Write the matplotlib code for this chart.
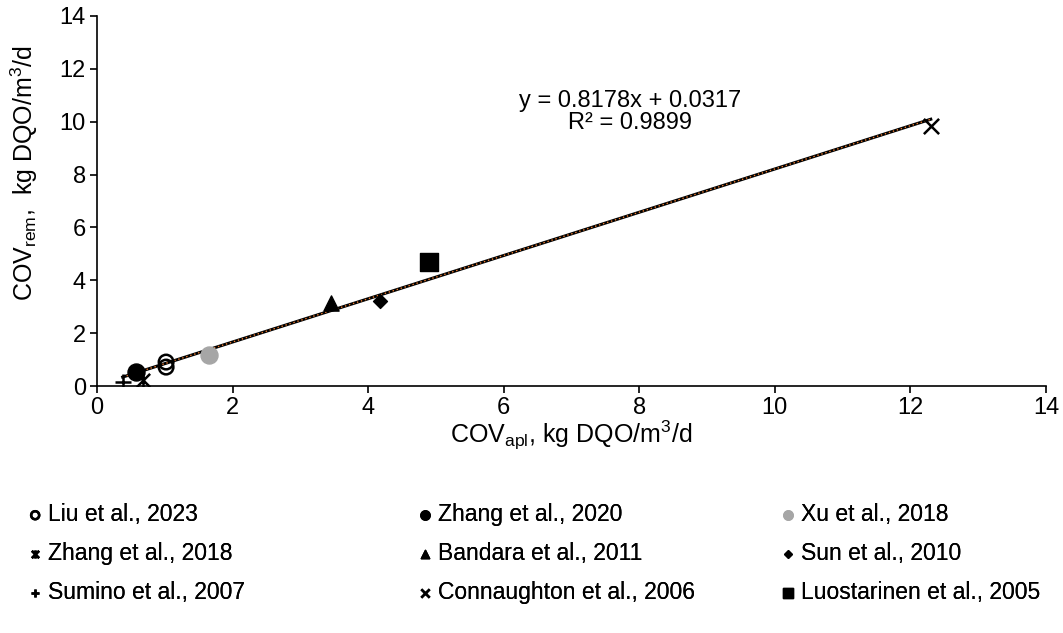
import matplotlib.pyplot as plt
from matplotlib.path import Path
import numpy as np

plt.rcParams["font.family"] = ["Liberation Sans", "DejaVu Sans"]

# data (COV applied, COV removed)
liu_x = [1.02, 1.02]
liu_y = [0.91, 0.72]
zhang20_x = [0.58]
zhang20_y = [0.53]
xu_x = [1.66]
xu_y = [1.17]
zhang18_x = [0.68]
zhang18_y = [0.23]
bandara_x = [3.46]
bandara_y = [3.14]
sun_x = [4.17]
sun_y = [3.22]
sumino_x = [0.38]
sumino_y = [0.15]
conn_x = [12.3]
conn_y = [9.83]
luo_x = [4.9]
luo_y = [4.69]

slope = 0.8178
intercept = 0.0317
fit_x = [0.38, 12.3]

# X with a vertical bar (Excel "star" marker)
star = Path([(-1, -1), (1, 1), (-1, 1), (1, -1), (0, -1.1), (0, 1.1)],
            [Path.MOVETO, Path.LINETO, Path.MOVETO, Path.LINETO, Path.MOVETO, Path.LINETO])

fig = plt.figure(figsize=(10.63, 6.33), dpi=100)
ax = fig.add_axes([0.0912, 0.390, 0.8928, 0.585])

ax.scatter(liu_x, liu_y, marker='o', facecolors='none', edgecolors='black', s=110, linewidths=1.8, zorder=3, label="Liu et al., 2023")
ax.scatter(zhang20_x, zhang20_y, marker='o', color='black', s=150, zorder=3, label="Zhang et al., 2020")
ax.scatter(xu_x, xu_y, marker='o', color='#a6a6a6', s=150, zorder=3, label="Xu et al., 2018")
ax.scatter(zhang18_x, zhang18_y, marker=star, color='black', s=110, linewidths=1.8, zorder=3, label="Zhang et al., 2018")
ax.scatter(bandara_x, bandara_y, marker='^', color='black', s=120, zorder=3, label="Bandara et al., 2011")
ax.scatter(sun_x, sun_y, marker='D', color='black', s=50, zorder=3, label="Sun et al., 2010")
ax.scatter(sumino_x, sumino_y, marker='+', color='black', s=120, linewidths=1.8, zorder=3, label="Sumino et al., 2007")
ax.scatter(conn_x, conn_y, marker='x', color='black', s=120, linewidths=1.8, zorder=3, label="Connaughton et al., 2006")
ax.scatter(luo_x, luo_y, marker='s', color='black', s=150, zorder=3, label="Luostarinen et al., 2005")

fx = np.array(fit_x)
ax.plot(fx, slope * fx + intercept, color='black', lw=2.2, zorder=2)
ax.plot(fx, slope * fx + intercept, color='#ed7d31', lw=1.0, ls=(0, (1, 2)), zorder=2)

ax.text(7.86, 10.35, "y = 0.8178x + 0.0317\nR² = 0.9899", fontsize=17, ha='center', va='center', linespacing=1.0)

ax.set_xlim(0, 14)
ax.set_ylim(0, 14)
ax.set_xticks(np.arange(0, 15, 2))
ax.set_yticks(np.arange(0, 15, 2))
ax.tick_params(labelsize=17, direction='out', length=5, width=1.2, pad=3)
for side in ['top', 'right']:
    ax.spines[side].set_visible(False)
for side in ['left', 'bottom']:
    ax.spines[side].set_linewidth(1.2)

ax.set_xlabel("COV$_{\\mathregular{apl}}$, kg DQO/m$^{\\mathregular{3}}$/d", fontsize=18, labelpad=0)
ax.set_ylabel("COV$_{\\mathregular{rem}}$,  kg DQO/m$^{\\mathregular{3}}$/d", fontsize=18)
ax.yaxis.set_label_coords(-0.06, 0.575)

handles, labels = ax.get_legend_handles_labels()
col_left = [26, 416, 779]
for c in range(3):
    idx = [c, c + 3, c + 6]
    leg = fig.legend([handles[i] for i in idx], [labels[i] for i in idx],
                     loc='upper left', bbox_to_anchor=(col_left[c] / 1063, 0.205),
                     frameon=False, fontsize=16.5, markerscale=0.55,
                     handletextpad=0.15, handlelength=0.8, borderpad=0,
                     borderaxespad=0, labelspacing=0.69)
    fig.add_artist(leg)

fig.savefig("out.png", dpi=100)
